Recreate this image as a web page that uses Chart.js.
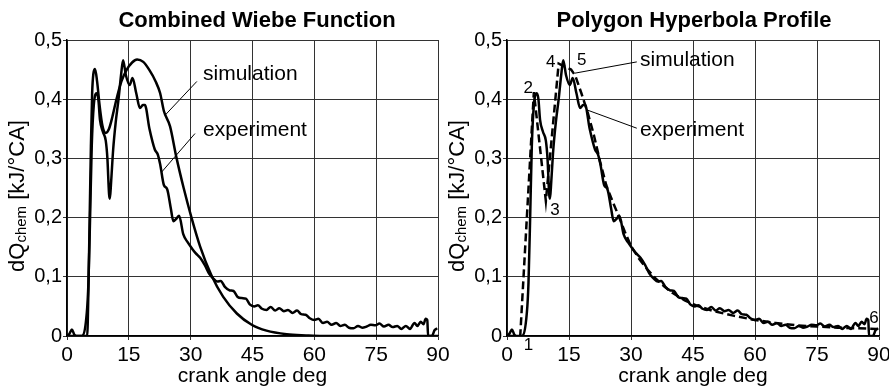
<!DOCTYPE html>
<html>
<head>
<meta charset="utf-8">
<script src="https://cdn.jsdelivr.net/npm/chart.js@4.4.1/dist/chart.umd.min.js"></script>
<style>
  html, body { margin: 0; padding: 0; background: #fff; }
  #wrap { position: relative; width: 889px; height: 391px; overflow: hidden; }
  #left { position: absolute; left: 0; top: 0; }
  #right { position: absolute; left: 440px; top: 0; }
</style>
</head>
<body>
<div id="wrap">
  <canvas id="left" width="470" height="391"></canvas>
  <canvas id="right" width="449" height="391"></canvas>
</div>
<script>
const xTickValues = [0, 15, 30, 45, 60, 75, 90];
const xTickLabels = ["0", "15", "30", "45", "60", "75", "90"];
const yTickValues = [0, 0.1, 0.2, 0.3, 0.4, 0.5];
const yTickLabels = ["0", "0,1", "0,2", "0,3", "0,4", "0,5"];

// measured heat release, same in both panels
const expAngle = [0, 0.6, 1.2, 1.8, 2.3, 3.6, 4.8, 5.2, 5.6, 6.0, 6.5, 7.2, 7.6, 8.0, 8.7, 9.4, 9.8, 10.2, 10.4, 10.7,
  11.2, 11.8, 12.5, 13.1, 13.6, 14.3, 15.2, 15.9, 16.8, 17.7, 18.4, 18.9, 20.0, 21.3, 22.0, 22.6, 23.5, 24.3, 25.2, 25.8,
  26.5, 27.2, 28.2, 29.3, 30.3, 31.2, 32.3, 33.4, 34.5, 35.5, 36.5, 37.3, 38.3, 39.5, 40.4, 41.4, 42.4, 43.4, 44.4, 45.4,
  46.3, 47.3, 48.4, 49.4, 50.5, 51.5, 52.6, 53.6, 54.7, 55.8, 56.8, 57.9, 58.9, 60.0, 61.0, 62.1, 63.1, 64.2, 65.3, 66.3,
  67.4, 68.4, 69.5, 70.6, 71.6, 72.7, 73.7, 74.8, 75.8, 76.9, 78.0, 79.0, 80.1, 81.1, 82.2, 83.2, 84.3, 85.0, 85.8, 86.5,
  87.0, 87.4, 87.6, 88.5, 89.2, 89.8];
const expValue = [0, 0.004, 0.011, 0.002, 0, 0, 0.039, 0.09, 0.2, 0.32, 0.39, 0.41, 0.4, 0.365, 0.345, 0.33, 0.3, 0.24, 0.232, 0.26,
  0.315, 0.36, 0.4, 0.44, 0.466, 0.44, 0.424, 0.436, 0.41, 0.385, 0.39, 0.39, 0.35, 0.315, 0.307, 0.29, 0.255, 0.248, 0.215, 0.194,
  0.198, 0.203, 0.172, 0.158, 0.148, 0.14, 0.132, 0.12, 0.105, 0.097, 0.092, 0.093, 0.083, 0.077, 0.076, 0.066, 0.064, 0.063, 0.053, 0.05,
  0.052, 0.046, 0.044, 0.049, 0.043, 0.047, 0.042, 0.044, 0.039, 0.043, 0.037, 0.036, 0.03, 0.027, 0.029, 0.022, 0.024, 0.019, 0.022, 0.017,
  0.019, 0.014, 0.013, 0.017, 0.014, 0.016, 0.019, 0.018, 0.021, 0.016, 0.019, 0.015, 0.017, 0.012, 0.017, 0.012, 0.022, 0.017, 0.024, 0.02,
  0.029, 0.027, 0, 0, 0.01, 0.013];

// combined Wiebe simulation (left)
const wiebeAngle = [0, 4.9, 5.2, 5.5, 5.8, 6.1, 6.4, 6.8, 7.3, 7.9, 8.6, 9.4, 10.2, 11.0, 12.0, 13.2, 14.5, 15.8, 17.0, 18.5,
  20.0, 21.5, 22.6, 23.5, 25.0, 26.5, 28.3, 30.2, 32.3, 35.0, 37.9, 41.2, 44.8, 48.4, 53.3, 58.0, 62.0, 90];
const wiebeValue = [0, 0, 0.08, 0.2, 0.32, 0.41, 0.443, 0.451, 0.43, 0.39, 0.355, 0.343, 0.35, 0.37, 0.4, 0.43, 0.45, 0.462, 0.467, 0.463,
  0.449, 0.43, 0.41, 0.38, 0.354, 0.303, 0.25, 0.2, 0.151, 0.103, 0.066, 0.038, 0.019, 0.009, 0.003, 0.001, 0, 0];

// polygon hyperbola simulation (right)
const polyAngle = [0, 3.2, 6.5, 9.4, 12.5, 15.5, 16.5, 18, 19.5, 21, 22.5, 24, 25.5, 27, 28.5, 30, 32, 34, 36, 38,
  40, 43, 46, 50, 55, 60, 65, 70, 75, 80, 85, 89.5];
const polyValue = [0, 0, 0.412, 0.228, 0.46, 0.45, 0.44, 0.41, 0.378, 0.34, 0.295, 0.255, 0.228, 0.203, 0.176, 0.152, 0.13, 0.112, 0.097, 0.084,
  0.073, 0.06, 0.051, 0.042, 0.034, 0.027, 0.022, 0.018, 0.016, 0.014, 0.013, 0.012];

// labels in data units [text, angle, value]
const leftNotes = [["simulation", 33.0, 0.443], ["experiment", 33.0, 0.348]];
const leftLeaders = [[31.5, 0.43, 23.8, 0.373], [31.05, 0.342, 22.97, 0.277]];
const rightNotes = [["simulation", 32.2, 0.466], ["experiment", 32.2, 0.348]];
const rightLeaders = [[16.45, 0.444, 31.4, 0.463], [19.3, 0.382, 31.4, 0.351]];
const vertexLabels = [["1", 5.2, -0.016], ["2", 5.15, 0.418], ["3", 11.6, 0.213], ["4", 10.6, 0.463], ["5", 18.1, 0.465], ["6", 88.8, 0.03]];

const FONT = '"Liberation Sans", Arial, sans-serif';

function pts(xs, ys) {
  return xs.map((x, i) => ({ x, y: ys[i] }));
}

const decor = {
  id: "decor",
  afterDraw(chart, args, opts) {
    const { ctx, chartArea: a, scales } = chart;
    const sx = (v) => scales.x.getPixelForValue(v);
    const sy = (v) => scales.y.getPixelForValue(v);
    ctx.save();
    ctx.fillStyle = "#000";
    ctx.strokeStyle = "#000";

    ctx.font = "bold 22px " + FONT;
    ctx.textAlign = "center";
    ctx.textBaseline = "alphabetic";
    ctx.fillText(opts.title, opts.titleX, 27);

    ctx.font = "21px " + FONT;
    ctx.fillText("crank angle deg", (a.left + a.right) / 2, 382);

    // y title with subscript
    const main = "22px " + FONT;
    const sub = "15px " + FONT;
    ctx.font = main;
    const w1 = ctx.measureText("dQ").width;
    const w3 = ctx.measureText(" [kJ/°CA]").width;
    ctx.font = sub;
    const w2 = ctx.measureText("chem").width;
    const total = w1 + w2 + w3;
    ctx.translate(24, 196);
    ctx.rotate(-Math.PI / 2);
    ctx.textAlign = "left";
    let px = -total / 2;
    ctx.font = main;
    ctx.fillText("dQ", px, 0);
    px += w1;
    ctx.font = sub;
    ctx.fillText("chem", px, 2);
    px += w2;
    ctx.font = main;
    ctx.fillText(" [kJ/°CA]", px, 0);
    ctx.setTransform(1, 0, 0, 1, 0, 0);

    ctx.lineWidth = 1;
    for (const [x1, y1, x2, y2] of opts.leaders) {
      ctx.beginPath();
      ctx.moveTo(sx(x1), sy(y1));
      ctx.lineTo(sx(x2), sy(y2));
      ctx.stroke();
    }
    ctx.font = "21px " + FONT;
    ctx.textAlign = "left";
    ctx.textBaseline = "middle";
    for (const [t, x, y] of opts.notes) ctx.fillText(t, sx(x), sy(y));

    ctx.font = "17px " + FONT;
    ctx.textAlign = "center";
    for (const [t, x, y] of opts.digits || []) ctx.fillText(t, sx(x), sy(y));
    ctx.restore();
  },
};

function makeChart(id, cfg) {
  return new Chart(document.getElementById(id), {
    type: "line",
    data: { datasets: cfg.datasets },
    options: {
      responsive: false,
      animation: false,
      devicePixelRatio: 1,
      layout: { padding: { left: 0, top: 40, right: cfg.padRight, bottom: 0 } },
      plugins: {
        legend: { display: false },
        tooltip: { enabled: false },
        decor: cfg.decor,
      },
      scales: {
        x: {
          type: "linear",
          min: 0,
          max: 90,
          afterBuildTicks: (s) => { s.ticks = xTickValues.map((v) => ({ value: v })); },
          afterFit: (s) => { s.height = 55; s.paddingLeft = 0; s.paddingRight = 0; },
          ticks: {
            color: "#000",
            font: { family: FONT, size: 21 },
            padding: 3,
            maxRotation: 0,
            autoSkip: false,
            callback: (v) => xTickLabels[xTickValues.indexOf(v)],
          },
          grid: { color: "#333", lineWidth: 1, tickLength: 4 },
          border: { color: "#000", width: 1.5 },
        },
        y: {
          min: 0,
          max: 0.5,
          afterBuildTicks: (s) => { s.ticks = yTickValues.map((v) => ({ value: v })); },
          afterFit: (s) => { s.width = 67; s.paddingTop = 0; s.paddingBottom = 0; },
          ticks: {
            color: "#000",
            font: { family: FONT, size: 20 },
            padding: 1,
            callback: (v) => yTickLabels[yTickValues.findIndex((t) => Math.abs(t - v) < 1e-9)],
          },
          grid: { color: "#333", lineWidth: 1, tickLength: 4 },
          border: { color: "#000", width: 1.5 },
        },
      },
    },
    plugins: [decor],
  });
}

const lineStyle = {
  borderColor: "#000",
  borderWidth: 2.5,
  pointRadius: 0,
  fill: false,
};

makeChart("left", {
  padRight: 32,
  datasets: [
    { label: "experiment", data: pts(expAngle, expValue), ...lineStyle, cubicInterpolationMode: "monotone" },
    { label: "simulation", data: pts(wiebeAngle, wiebeValue), ...lineStyle, cubicInterpolationMode: "monotone" },
  ],
  decor: { title: "Combined Wiebe Function", titleX: 257, notes: leftNotes, leaders: leftLeaders },
});

makeChart("right", {
  padRight: 10,
  datasets: [
    { label: "experiment", data: pts(expAngle, expValue), ...lineStyle, cubicInterpolationMode: "monotone" },
    { label: "simulation", data: pts(polyAngle, polyValue), ...lineStyle, borderDash: [8, 4], tension: 0 },
  ],
  decor: { title: "Polygon Hyperbola Profile", titleX: 254, notes: rightNotes, leaders: rightLeaders, digits: vertexLabels },
});
</script>
</body>
</html>
